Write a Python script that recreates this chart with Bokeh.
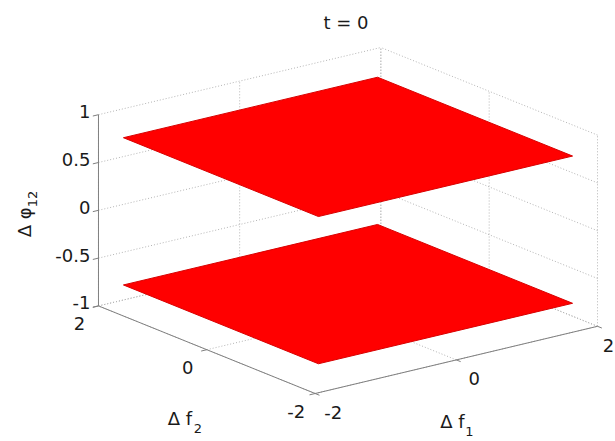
import numpy as np
from bokeh.plotting import figure
from bokeh.models import Range1d
from bokeh.core.properties import value
from bokeh.embed import file_html
from bokeh.resources import INLINE

# ---- axis limits and ticks ----
f1_lim = [-2, 2]
f2_lim = [-2, 2]
z_lim = [-1, 1]
f1_ticks = [-2, 0, 2]
f2_ticks = [-2, 0, 2]
f1_tick_labels = ["-2", "0", "2"]
f2_tick_labels = ["-2", "0", "2"]
z_ticks = [-1, -0.5, 0, 0.5, 1]
z_tick_labels = ["-1", "-0.5", "0", "0.5", "1"]

# ---- phase-difference sheets at t = 0 ----
phase_levels = [0.77, -0.77]
f1_span = [-1.8, 1.8]
f2_span = [-1.8, 1.8]

# ---- view (azimuth, elevation in degrees) ----
AZ, EL = -37.5, 30.0


def project(f1, f2, z):
    """Orthographic projection of data coords onto the view plane."""
    f1 = np.asarray(f1, dtype=float)
    f2 = np.asarray(f2, dtype=float)
    z = np.asarray(z, dtype=float)
    u = (f1 - np.mean(f1_lim)) / (np.ptp(f1_lim) / 2)
    v = (f2 - np.mean(f2_lim)) / (np.ptp(f2_lim) / 2)
    w = (z - np.mean(z_lim)) / (np.ptp(z_lim) / 2)
    a, e = np.deg2rad(AZ), np.deg2rad(EL)
    X = np.cos(a) * u + np.sin(a) * v
    Y = -np.sin(a) * np.sin(e) * u + np.cos(a) * np.sin(e) * v + np.cos(e) * w
    return X, Y


def segments(p_from, p_to):
    xs, ys = [], []
    for a, b in zip(p_from, p_to):
        xa, ya = project(*a)
        xb, yb = project(*b)
        xs.append([float(xa), float(xb)])
        ys.append([float(ya), float(yb)])
    return xs, ys


W, H = 615, 441
SX, SY = 177.96, 110.4      # pixels per projected unit
CX, CY = 347.5, 220.0       # pixel position of the box centre

p = figure(width=W, height=H, output_backend="svg", toolbar_location=None,
           x_range=Range1d(-CX / SX, (W - CX) / SX),
           y_range=Range1d((CY - H) / SY, CY / SY),
           x_axis_type=None, y_axis_type=None, min_border=0)
p.grid.visible = False
p.outline_line_color = None
p.background_fill_color = "white"
p.border_fill_color = "white"

f1a, f1b = f1_lim
f2a, f2b = f2_lim
za, zb = z_lim

# ---- dotted grid on the back walls and the floor ----
g_from, g_to = [], []
for z in z_ticks:
    g_from.append((f1a, f2b, z)); g_to.append((f1b, f2b, z))
    g_from.append((f1b, f2a, z)); g_to.append((f1b, f2b, z))
for f1 in f1_ticks:
    g_from.append((f1, f2b, za)); g_to.append((f1, f2b, zb))
    g_from.append((f1, f2a, za)); g_to.append((f1, f2b, za))
for f2 in f2_ticks:
    g_from.append((f1b, f2, za)); g_to.append((f1b, f2, zb))
    g_from.append((f1a, f2, za)); g_to.append((f1b, f2, za))
gx, gy = segments(g_from, g_to)
p.multi_line(gx, gy, line_color="#b4b4b4", line_width=1, line_dash="1 2")

# ---- axis lines ----
ax_from = [(f1a, f2b, za), (f1a, f2a, za), (f1a, f2a, za)]
ax_to = [(f1a, f2b, zb), (f1a, f2b, za), (f1b, f2a, za)]
axx, axy = segments(ax_from, ax_to)
p.multi_line(axx, axy, line_color="#808080", line_width=1)

# ---- tick marks ----
tl = 0.08
t_from, t_to = [], []
for z in z_ticks:
    t_from.append((f1a, f2b, z)); t_to.append((f1a - tl, f2b, z))
for f2 in f2_ticks:
    t_from.append((f1a, f2, za)); t_to.append((f1a - tl, f2, za))
for f1 in f1_ticks:
    t_from.append((f1, f2a, za)); t_to.append((f1, f2a - tl, za))
tx, ty = segments(t_from, t_to)
p.multi_line(tx, ty, line_color="#808080", line_width=1)

# ---- the two sheets ----
px, py = [], []
for lev in phase_levels:
    cf1 = [f1_span[0], f1_span[1], f1_span[1], f1_span[0]]
    cf2 = [f2_span[0], f2_span[0], f2_span[1], f2_span[1]]
    X, Y = project(cf1, cf2, [lev] * 4)
    px.append(list(X)); py.append(list(Y))
p.patches(px, py, fill_color="#ff0000", line_color="#d80000", line_width=1)

FONT = value("DejaVu Sans")
TXT = "#1a1a1a"

# ---- tick labels ----
zx, zy = project([f1a] * len(z_ticks), [f2b] * len(z_ticks), z_ticks)
p.text(x=list(zx), y=list(zy), text=z_tick_labels, text_font=FONT,
       text_font_size="18px", text_color=TXT, text_align="right",
       text_baseline="middle", x_offset=-8, y_offset=-3)

f2x, f2y = project([f1a] * 3, f2_ticks, [za] * 3)
p.text(x=list(f2x), y=list(f2y), text=f2_tick_labels, text_font=FONT,
       text_font_size="18px", text_color=TXT, text_align="center",
       text_baseline="middle", x_offset=-19, y_offset=18)

# the last f1 label sits against the right edge of the canvas
f1x, f1y = project(f1_ticks, [f2a] * 3, [za] * 3)
p.text(x=list(f1x), y=list(f1y), text=f1_tick_labels, text_font=FONT,
       text_font_size="18px", text_color=TXT, text_align="center",
       text_baseline="middle", x_offset=[18, 18, 11], y_offset=19)

# ---- axis labels ----
mx, my = project([f1a], [0], [za])
p.text(x=list(mx), y=list(my), text=["Δ f"], text_font=FONT,
       text_font_size="18px", text_color=TXT, text_align="left",
       text_baseline="middle", x_offset=-39, y_offset=69)
p.text(x=list(mx), y=list(my), text=["2"], text_font=FONT,
       text_font_size="13px", text_color=TXT, text_align="left",
       text_baseline="middle", x_offset=-13, y_offset=79)

nx, ny = project([0], [f2a], [za])
p.text(x=list(nx), y=list(ny), text=["Δ f"], text_font=FONT,
       text_font_size="18px", text_color=TXT, text_align="left",
       text_baseline="middle", x_offset=-16, y_offset=62)
p.text(x=list(nx), y=list(ny), text=["1"], text_font=FONT,
       text_font_size="13px", text_color=TXT, text_align="left",
       text_baseline="middle", x_offset=9, y_offset=72)

vx, vy = project([f1a], [f2b], [0])
p.text(x=list(vx), y=list(vy), text=["Δ φ"], text_font=FONT,
       text_font_size="18px", text_color=TXT, text_align="left",
       text_baseline="middle", angle=np.pi / 2, x_offset=-74, y_offset=27)
p.text(x=list(vx), y=list(vy), text=["12"], text_font=FONT,
       text_font_size="13px", text_color=TXT, text_align="left",
       text_baseline="middle", angle=np.pi / 2, x_offset=-66, y_offset=-3)

# ---- title ----
bx, by = project([f1a, f1b, f1b, f1a], [f2a, f2a, f2b, f2b], [zb] * 4)
p.text(x=[0.0], y=[float(np.max(by))], text=["t = 0"], text_font=FONT,
       text_font_size="18px", text_color=TXT, text_align="center",
       text_baseline="middle", x_offset=-2, y_offset=-25)

open("out.html", "w").write(file_html(p, INLINE))
